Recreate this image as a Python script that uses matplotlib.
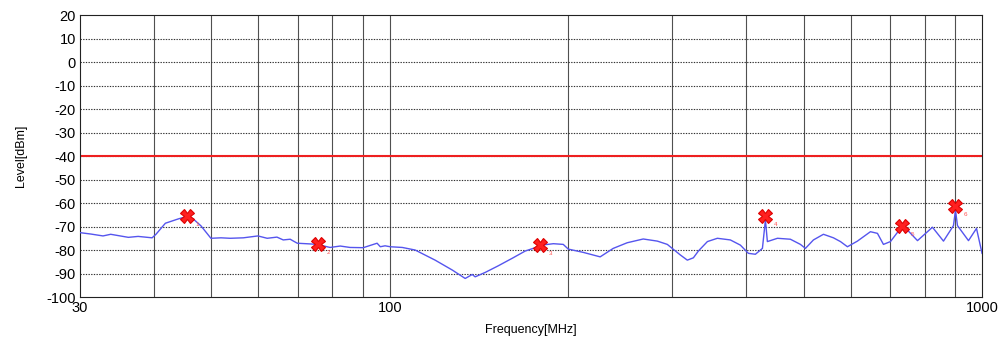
import numpy as np
import matplotlib.pyplot as plt
from matplotlib.ticker import FixedLocator, NullLocator, FixedFormatter

plt.rcParams['font.family'] = ['Liberation Sans', 'DejaVu Sans']
plt.rcParams['axes.unicode_minus'] = False

# измеренный спектр
freq = [30.0, 31.3, 32.8, 33.8, 36.2, 37.6, 39.7, 40.3, 41.8, 43.9, 45.3, 46.6,
        48.0, 49.9, 51.9, 53.8, 56.6, 59.9, 62.1, 64.5, 66.1, 67.9, 69.8, 73.4,
        75.4, 79.3, 82.5, 85.7, 90.2, 95.2, 96.4, 98.2, 100.2, 105.0, 110.4,
        119.3, 127.5, 134.1, 137.8, 139.4, 145.0, 152.5, 161.0, 169.4, 176.1,
        180.9, 188.9, 196.3, 200.2, 212.2, 226.6, 238.4, 251.7, 267.9, 283.0,
        294.2, 301.2, 309.5, 318.0, 325.6, 332.0, 343.8, 357.4, 375.9, 390.8,
        403.2, 414.3, 425.8, 430.8, 434.1, 451.4, 474.7, 493.6, 503.3, 519.2,
        539.8, 561.2, 576.7, 592.6, 616.0, 648.0, 665.9, 681.6, 700.4, 728.3,
        748.3, 778.1, 824.7, 860.8, 894.9, 901.9, 908.9, 948.7, 978.7, 1000.0]
level = [-72.6, -73.2, -74.0, -73.3, -74.6, -74.2, -74.8, -73.3, -68.6, -66.8,
         -65.8, -66.8, -69.7, -75.0, -74.8, -75.0, -74.8, -74.0, -75.0, -74.5,
         -75.7, -75.4, -77.1, -77.4, -77.6, -78.9, -78.3, -78.9, -79.0, -77.1,
         -78.6, -78.2, -78.6, -78.9, -80.0, -84.3, -88.5, -92.1, -90.4, -91.4,
         -89.5, -86.7, -83.5, -80.4, -79.0, -77.9, -77.3, -77.6, -79.6, -81.0,
         -82.9, -79.3, -76.9, -75.3, -76.2, -77.6, -79.7, -82.1, -84.3, -83.3,
         -80.4, -76.4, -75.0, -75.7, -77.9, -81.4, -81.8, -79.3, -67.2, -76.4,
         -75.0, -75.4, -77.6, -79.3, -75.7, -73.3, -74.8, -76.4, -78.6, -76.2,
         -72.2, -72.9, -77.6, -76.4, -70.8, -71.5, -76.0, -70.3, -76.2, -69.6,
         -63.0, -69.6, -76.0, -70.8, -81.4]

# пики
mk_freq = [45.5, 75.7, 179.5, 430.8, 733.9, 901.8]
mk_level = [-65.5, -77.4, -77.9, -65.5, -69.8, -61.3]
mk_names = ['1', '2', '3', '4', '5', '6']

limit = -40

fig = plt.figure(figsize=(10.03, 3.45), dpi=100)
ax = fig.add_axes([0.0798, 0.139, 0.8993, 0.8175])

ax.set_xscale('log')
ax.set_xlim(30, 1000)
ax.set_ylim(-100, 20)

# сетка: вертикальные сплошные, горизонтальные пунктир
vlines = [40, 50, 60, 70, 80, 90, 100, 200, 300, 400, 500, 600, 700, 800, 900]
for v in vlines:
    ax.axvline(v, color='#505050', lw=0.8, zorder=1)
for h in range(-90, 20, 10):
    ax.axhline(h, color='#303030', lw=0.8, ls=(0, (1.2, 1.2)), zorder=1)

ax.axhline(limit, color='#ee2020', lw=1.5, zorder=2)
ax.plot(freq, level, color='#5555ee', lw=1.0, zorder=3)

ax.plot(mk_freq, mk_level, ls='none', marker='X', ms=10, mfc='#ff2020',
        mec='#dd0000', mew=0.8, zorder=4)
for f, l, s in zip(mk_freq, mk_level, mk_names):
    ax.annotate(s, (f, l), xytext=(6, -7), textcoords='offset points',
                color='#ff5050', fontsize=4.5, zorder=5)

ax.xaxis.set_major_locator(FixedLocator([30, 100, 1000]))
ax.xaxis.set_major_formatter(FixedFormatter(['30', '100', '1000']))
ax.xaxis.set_minor_locator(NullLocator())
ax.set_yticks(range(-100, 21, 10))
ax.tick_params(length=0, labelsize=10.5, pad=3)

ax.set_xlabel('Frequency[MHz]', fontsize=9, labelpad=6)
ax.set_ylabel('Level[dBm]', fontsize=9, labelpad=14)

for sp in ax.spines.values():
    sp.set_color('#222222')
    sp.set_linewidth(0.8)

fig.savefig('out.png', dpi=100)
